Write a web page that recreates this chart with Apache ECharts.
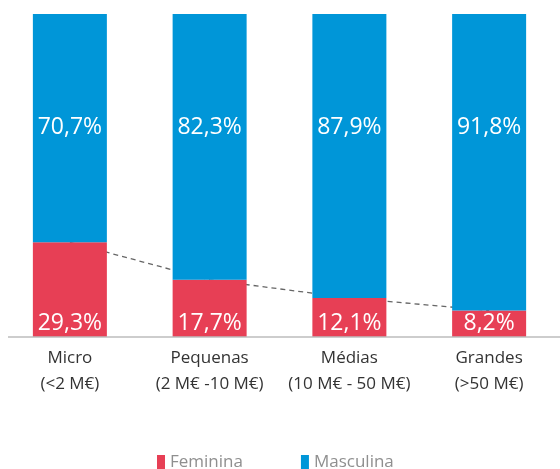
<!DOCTYPE html>
<html>
<head>
<meta charset="utf-8">
<script src="https://cdn.jsdelivr.net/npm/echarts@6/dist/echarts.min.js"></script>
<style>
	html, body { margin: 0; padding: 0; background: #fff; }
	#chart { width: 560px; height: 469px; }
</style>
</head>
<body>
<div id="chart"></div>
<script>
const categories = [ 'Micro\n(<2 M€)', 'Pequenas\n(2 M€ -10 M€)', 'Médias\n(10 M€ - 50 M€)', 'Grandes\n(>50 M€)' ];
const feminina = [ 29.3, 17.7, 12.1, 8.2 ];
const masculina = [ 70.7, 82.3, 87.9, 91.8 ];

const fmt = function ( v ) {
	return v.toFixed( 1 ).replace( '.', ',' ) + '%';
};

const myChart = echarts.init( document.getElementById( 'chart' ) );
const options = {
	animation: false,
	textStyle: { fontFamily: 'Open Sans' },
	grid: { left: 0, width: 559, top: 14, height: 323 },
	legend: {
		bottom: -7,
		left: 152,
		itemWidth: 8,
		itemHeight: 15,
		itemGap: 58,
		icon: 'rect',
		data: [ 'Feminina', 'Masculina' ],
		textStyle: { color: '#8f8f8f', fontSize: 17, fontFamily: 'Open Sans' }
	},
	xAxis: {
		type: 'category',
		data: categories,
		axisLine: { show: false },
		axisTick: { show: false },
		axisLabel: { interval: 0, color: '#333', fontSize: 17, lineHeight: 26, margin: 8 }
	},
	yAxis: { type: 'value', min: 0, max: 100, show: false, splitLine: { show: false } },
	graphic: [ {
		type: 'line',
		shape: { x1: 8, y1: 337, x2: 560, y2: 337 },
		style: { stroke: '#bdbdbd', lineWidth: 1.5 },
		z: 10
	} ],
	series: [
		{
			name: 'Feminina-line',
			type: 'line',
			data: feminina,
			symbol: 'none',
			z: 1,
			lineStyle: { color: '#666', width: 1.3, type: [ 5, 4 ] },
			legendHoverLink: false
		},
		{
			name: 'Feminina',
			type: 'bar',
			stack: 'total',
			barWidth: 74,
			z: 3,
			data: feminina,
			itemStyle: { color: '#e73f55' },
			label: {
				show: true,
				position: 'insideBottom',
				distance: 2,
				color: '#fff',
				fontSize: 23,
				formatter: p => fmt( p.value )
			}
		},
		{
			name: 'Masculina',
			type: 'bar',
			stack: 'total',
			barWidth: 74,
			z: 3,
			data: masculina,
			itemStyle: { color: '#0096d8' },
			label: {
				show: true,
				position: 'insideTop',
				distance: 102,
				color: '#fff',
				fontSize: 23,
				formatter: p => fmt( p.value )
			}
		}
	]
};
myChart.setOption( options );
</script>
</body>
</html>
